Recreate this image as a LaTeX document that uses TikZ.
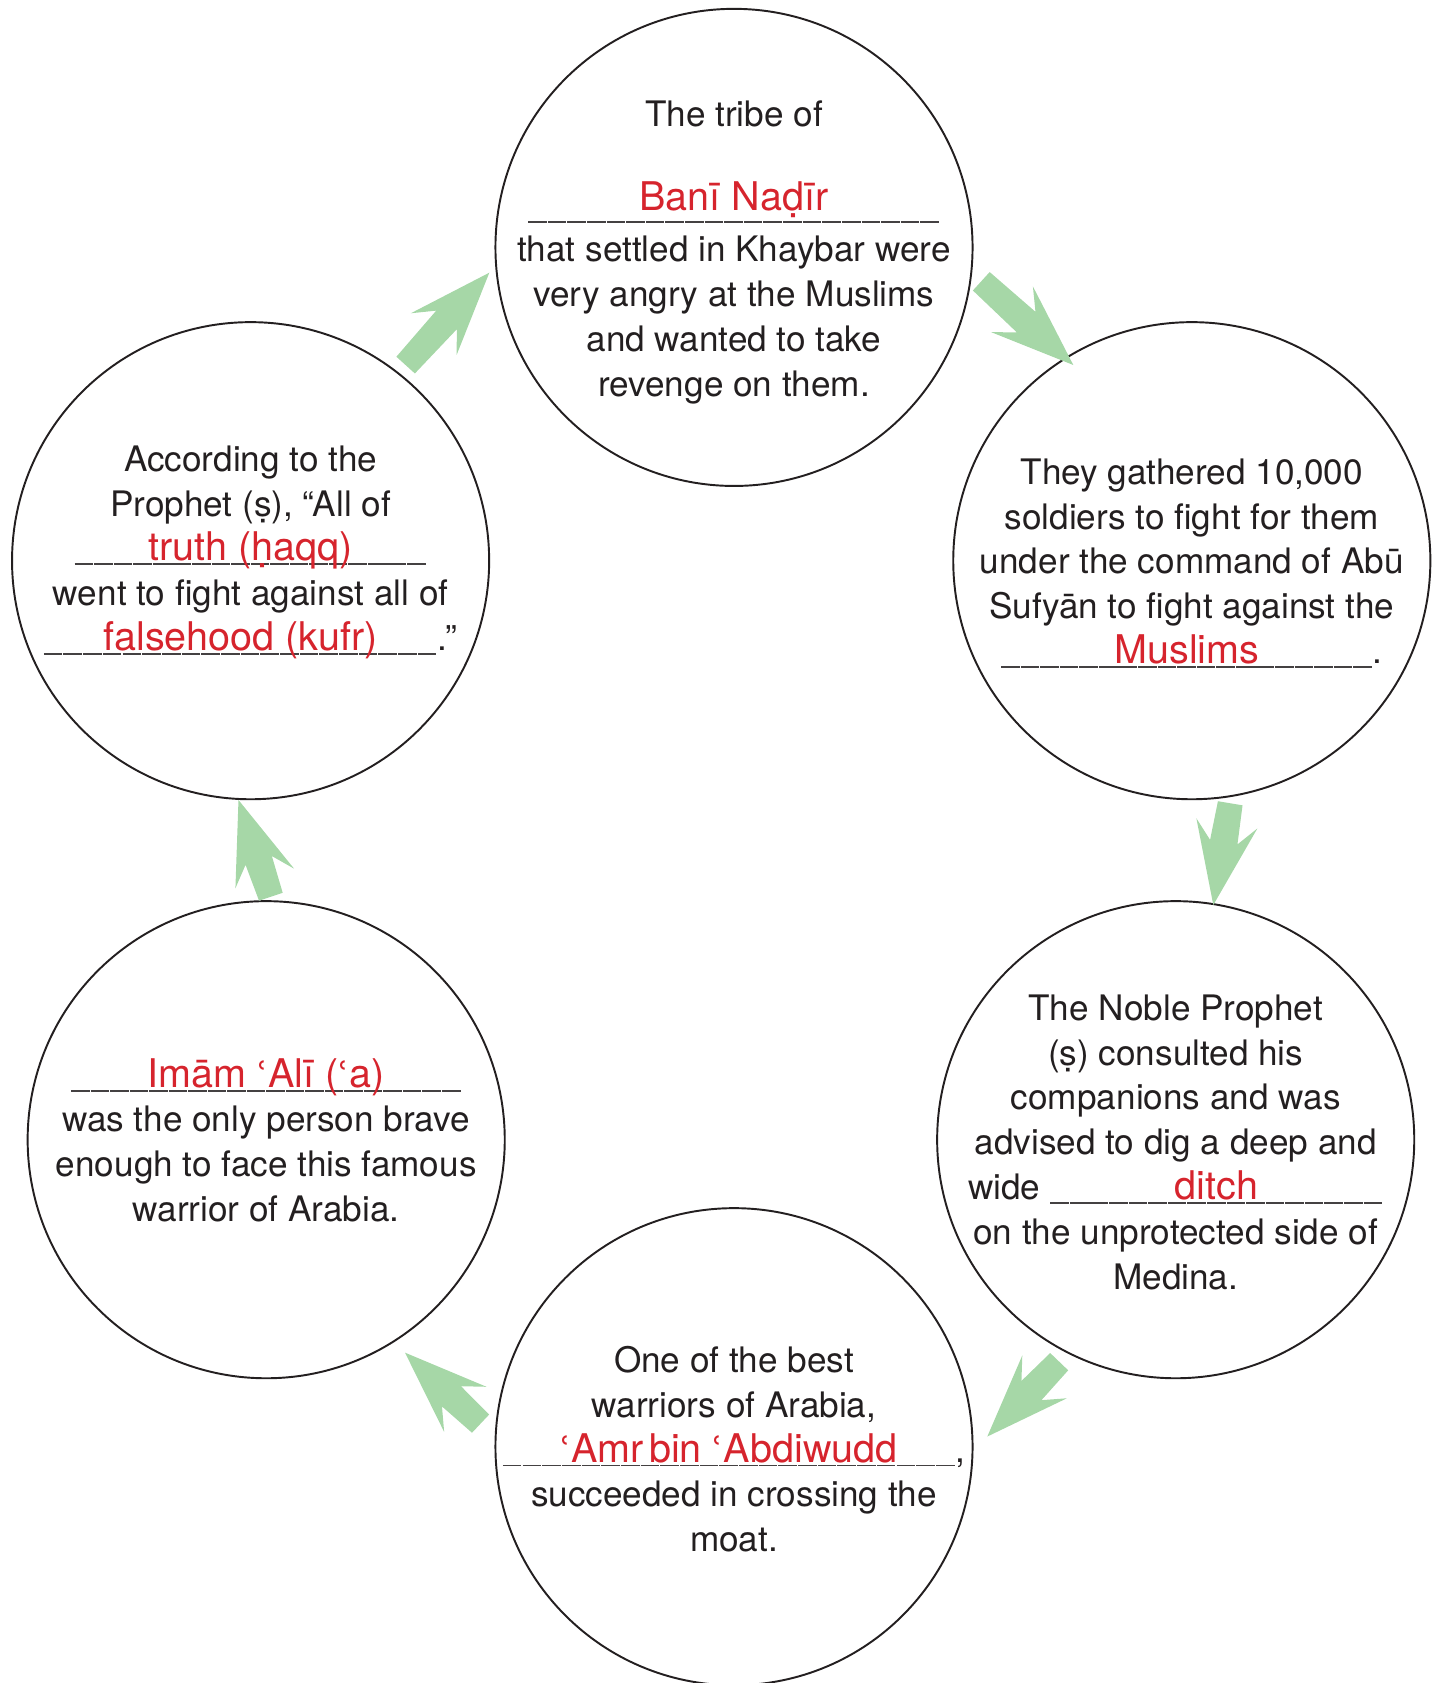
\documentclass[tikz,border=0pt]{standalone}
\usepackage{fontspec}
\setmainfont{TeX Gyre Heros}
\newfontfamily\ringfont{DejaVu Sans}
\usetikzlibrary{calc}

\definecolor{ink}{RGB}{35,31,32}
\definecolor{answer}{RGB}{214,36,45}
\definecolor{leaf}{RGB}{166,215,167}

\newcommand{\answerfont}{\fontsize{22.5}{25.5}\selectfont\color{answer}}
\newcommand{\ayn}{{\ringfont\fontsize{20}{25.5}\selectfont ʿ}}
% blank line with the answer written over it
\newcommand{\fillin}[3][0pt]{%
  \makebox[0pt][l]{\color{ink!85}\xleaders\hbox{\rule[-2.5pt]{10.6pt}{1.1pt}\kern0.5pt}\hskip#2}%
  \makebox[#2]{\raisebox{#1}{\answerfont #3}}}
% block arrow from tail #1 to tip #2
\newcommand{\flowarrow}[2]{%
  \coordinate (fa) at #1;
  \coordinate (fb) at #2;
  \coordinate (fn) at ($(fb)!36.3pt!(fa)$);
  \coordinate (fw) at ($(fb)!47.1pt!(fa)$);
  \fill[leaf] ($(fa)!7.1pt!90:(fb)$) -- ($(fn)!7.9pt!90:(fb)$) -- ($(fw)!17.6pt!90:(fb)$)
    -- (fb) -- ($(fw)!17.6pt!-90:(fb)$) -- ($(fn)!7.9pt!-90:(fb)$) -- ($(fa)!7.1pt!-90:(fb)$) -- cycle;
}

\begin{document}
\begin{tikzpicture}[x=0.02cm, y=0.02cm,
    stage/.style={circle, draw=ink, line width=1.1pt, minimum size=9.544cm, inner sep=0pt},
    blurb/.style={align=center, text=ink, inner sep=0pt, yshift=-0.05cm, font=\fontsize{20}{25.5}\selectfont}]
  \useasboundingbox (0,0) rectangle (1437,-1683);

  % the six stages
  \node[stage] (tribe) at (734,-247.4) {};
  \node[stage] (army) at (1191.8,-560.7) {};
  \node[stage] (ditch) at (1175.7,-1139.7) {};
  \node[stage] (warrior) at (734,-1446.7) {};
  \node[stage] (hero) at (266.2,-1139.7) {};
  \node[stage] (prophet) at (250.6,-560.7) {};

  \node[blurb] (tribe-text) at ([yshift=-0.05cm]tribe) {The tribe of\\[27pt]
    \fillin[4.7pt]{8.24cm}{Banī Naḍīr}\\[-1pt]
    that settled in Khaybar were\\very angry at the Muslims\\
    and wanted to take\\revenge on them.};
  \node[blurb] (army-text) at (army) {They gathered 10,000\\soldiers to fight for them\\
    under the command of Abū\\Sufyān to fight against the\\
    \fillin{7.44cm}{Muslims}.};
  \node[blurb] (ditch-text) at (ditch) {The Noble Prophet\\(ṣ) consulted his\\
    companions and was\\advised to dig a deep and\\
    wide \fillin{6.66cm}{ditch}\\on the unprotected side of\\Medina.};
  \node[blurb] (warrior-text) at (warrior) {One of the best\\warriors of Arabia,\\
    \fillin{9.06cm}{\ayn Amr\kern3pt bin \ayn Abdiwudd},\\succeeded in crossing the\\moat.};
  \node[blurb] (hero-text) at ([yshift=0.04cm]hero) {\fillin{7.81cm}{Imām \ayn Alī (\ayn a)}\\
    was the only person brave\\enough to face this famous\\warrior of Arabia.};
  \node[blurb] (prophet-text) at ([yshift=0.22cm]prophet) {According to the\\
    Prophet (ṣ), “All of\\\fillin{7.04cm}{truth (ḥaqq)}\\
    went to fight against all of\\\fillin{7.88cm}{falsehood (kufr)}.”};

  % arrows round the cycle
  \foreach \a/\ai/\ar/\b/\bi/\br in {prophet/51.6/249.6/tribe/185.9/246,
      tribe/352.2/249.6/army/121.2/228.8, army/279/245.6/ditch/80.9/237.7,
      ditch/242.3/250.7/warrior/2.3/253.5, warrior/174.8/254.5/hero/303.1/254.2,
      hero/88.9/243/prophet/267.1/239.6}{
    \flowarrow{($(\a)+(\ai:\ar)$)}{($(\b)+(\bi:\br)$)}
  }
\end{tikzpicture}
\end{document}
